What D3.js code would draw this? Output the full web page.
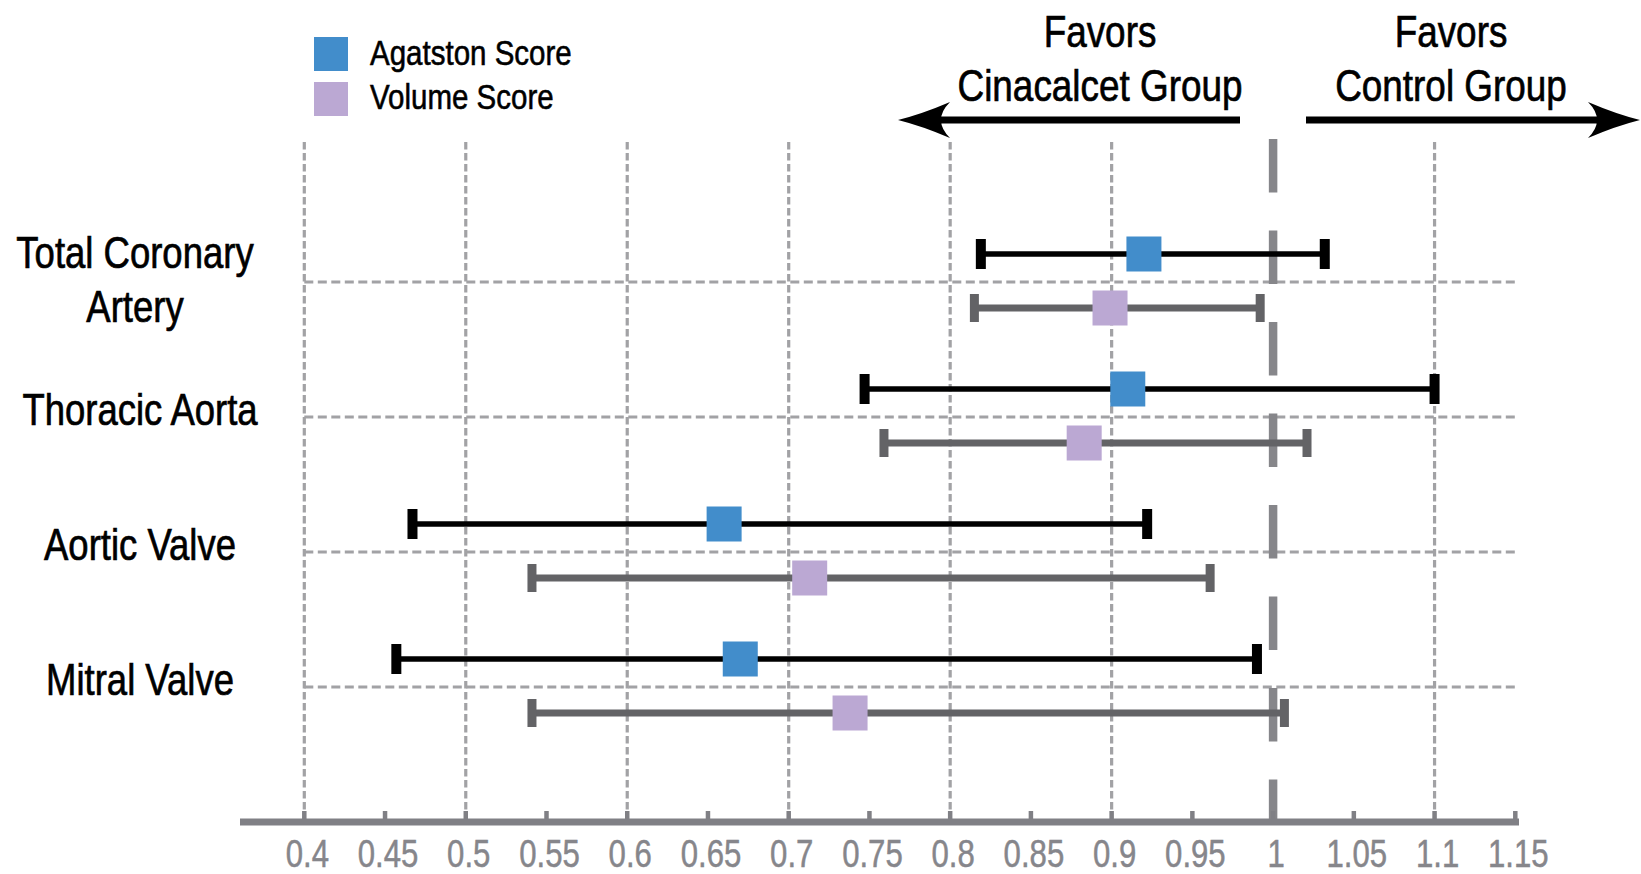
<!DOCTYPE html>
<html>
<head>
<meta charset="utf-8">
<script src="https://cdn.jsdelivr.net/npm/d3@7"></script>
<style>
  body { margin: 0; background: #fff; }
  svg { display: block; }
  text { font-family: 'Liberation Sans', Arial, sans-serif; }
</style>
</head>
<body>
<svg id="chart" width="1641" height="874"></svg>
<script>
// Sites and their label lines
const categories = ["Total Coronary Artery", "Thoracic Aorta", "Aortic Valve", "Mitral Valve"];
const categoryLines = [["Total Coronary", "Artery"], ["Thoracic Aorta"], ["Aortic Valve"], ["Mitral Valve"]];

// Series
const seriesNames = ["Agatston Score", "Volume Score"];
const agatstonEst  = [0.920, 0.910, 0.660, 0.670];
const agatstonLow  = [0.819, 0.747, 0.467, 0.457];
const agatstonHigh = [1.032, 1.100, 0.922, 0.990];
const volumeEst    = [0.899, 0.883, 0.713, 0.738];
const volumeLow    = [0.815, 0.759, 0.541, 0.541];
const volumeHigh   = [0.992, 1.021, 0.961, 1.007];

// Axis ticks
const tickValues = [0.4, 0.45, 0.5, 0.55, 0.6, 0.65, 0.7, 0.75, 0.8, 0.85, 0.9, 0.95, 1, 1.05, 1.1, 1.15];
const gridValues = [0.4, 0.5, 0.6, 0.7, 0.8, 0.9, 1.1];
const referenceValue = 1;

const directionLabels = [["Favors", "Cinacalcet Group"], ["Favors", "Control Group"]];

// Condensed lettering: Arial-metric glyphs squeezed horizontally
const NARROW = 0.82;
function narrow(xp, yp) { return `translate(${xp},${yp}) scale(${NARROW},1)`; }

const svg = d3.select("#chart");

const x = d3.scaleLinear().domain([0.4, 1.15]).range([304.3, 1515.3]);
const y = d3.scalePoint().domain(categories).range([282, 687]);

const axisY = 822;
const gridTop = 142;

const seriesStyle = [
  { fill: "#428dcb", bar: "#000000", barW: 5.5, capW: 10, capH: 30, dy: -28 },
  { fill: "#bba8d3", bar: "#636366", barW: 7, capW: 9, capH: 28, dy: 26 }
];
const seriesData = [
  categories.map((c, i) => ({ cat: c, est: agatstonEst[i], lo: agatstonLow[i], hi: agatstonHigh[i] })),
  categories.map((c, i) => ({ cat: c, est: volumeEst[i], lo: volumeLow[i], hi: volumeHigh[i] }))
];

// Heavier strokes on the lettering
function ink(sel, color, w) { return sel.attr("fill", color).attr("stroke", color).attr("stroke-width", w); }

// Vertical grid lines
svg.append("g").selectAll("line").data(gridValues).join("line")
  .attr("x1", d => x(d)).attr("x2", d => x(d))
  .attr("y1", gridTop).attr("y2", axisY - 4)
  .attr("stroke", "#a2a2a5").attr("stroke-width", 3.2)
  .attr("stroke-dasharray", "7.5,3.5");

// Horizontal separators at each site
svg.append("g").selectAll("line").data(categories).join("line")
  .attr("x1", x(0.4)).attr("x2", x(1.15))
  .attr("y1", d => y(d)).attr("y2", d => y(d))
  .attr("stroke", "#a2a2a5").attr("stroke-width", 3.2)
  .attr("stroke-dasharray", "9,4.5");

// Null-effect reference line
svg.append("line")
  .attr("x1", x(referenceValue)).attr("x2", x(referenceValue))
  .attr("y1", 139).attr("y2", axisY)
  .attr("stroke", "#86868a").attr("stroke-width", 8.5)
  .attr("stroke-dasharray", "53.5,38");

// Error bars and point estimates
seriesData.forEach((data, s) => {
  const st = seriesStyle[s];
  const g = svg.append("g");
  g.selectAll("line.ci").data(data).join("line").attr("class", "ci")
    .attr("x1", d => x(d.lo)).attr("x2", d => x(d.hi))
    .attr("y1", d => y(d.cat) + st.dy).attr("y2", d => y(d.cat) + st.dy)
    .attr("stroke", st.bar).attr("stroke-width", st.barW);
  ["lo", "hi"].forEach(k => {
    g.selectAll("rect.cap-" + k).data(data).join("rect").attr("class", "cap-" + k)
      .attr("x", d => x(d[k]) - st.capW / 2).attr("width", st.capW)
      .attr("y", d => y(d.cat) + st.dy - st.capH / 2).attr("height", st.capH)
      .attr("fill", st.bar);
  });
  const m = 35;
  g.selectAll("rect.pt").data(data).join("rect").attr("class", "pt")
    .attr("x", d => x(d.est) - m / 2).attr("width", m)
    .attr("y", d => y(d.cat) + st.dy - m / 2).attr("height", m)
    .attr("fill", st.fill);
});

// Bottom axis
const axisG = svg.append("g").attr("transform", `translate(0,${axisY})`);
axisG.append("line").attr("x1", 240).attr("x2", 1519).attr("y1", 0).attr("y2", 0)
  .attr("stroke", "#808085").attr("stroke-width", 7);
axisG.selectAll("line.tick").data(tickValues).join("line").attr("class", "tick")
  .attr("x1", d => x(d)).attr("x2", d => x(d)).attr("y1", -3).attr("y2", -11)
  .attr("stroke", "#808085").attr("stroke-width", 4.5);
ink(axisG.selectAll("text.tl").data(tickValues).join("text").attr("class", "tl")
  .attr("transform", d => narrow(x(d) + 3, 45))
  .attr("text-anchor", "middle").attr("font-size", 38), "#86868b", 0.5)
  .text(d => String(+d.toFixed(2)));

// Site labels
categoryLines.forEach((lines, i) => {
  const cy = y(categories[i]);
  const pos = lines.length === 2 ? [[135, cy - 14], [135, cy + 40]] : [[140, cy + 8]];
  lines.forEach((ln, j) => {
    ink(svg.append("text").attr("transform", narrow(pos[j][0], pos[j][1])).attr("text-anchor", "middle")
      .attr("font-size", 44.5), "#000", 0.7).text(ln);
  });
});

// Legend
const legend = svg.append("g");
seriesNames.forEach((name, i) => {
  legend.append("rect").attr("x", 314).attr("y", 37 + i * 45).attr("width", 34).attr("height", 34)
    .attr("fill", seriesStyle[i].fill);
  ink(legend.append("text").attr("transform", narrow(370, 65 + i * 44))
    .attr("font-size", 36), "#000", 0.6).text(name);
});

// Direction labels with arrows
const dirG = svg.append("g");
const dirCenters = [1100, 1451];
directionLabels.forEach((lines, i) => {
  ink(dirG.append("text").attr("transform", narrow(dirCenters[i], 47)).attr("text-anchor", "middle")
    .attr("font-size", 45), "#000", 0.7).text(lines[0]);
  ink(dirG.append("text").attr("transform", narrow(dirCenters[i], 101)).attr("text-anchor", "middle")
    .attr("font-size", 45), "#000", 0.7).text(lines[1]);
});
const arrowY = 120;
function arrow(xStart, xTip) {
  const dir = Math.sign(xTip - xStart);
  const back = xTip - dir * 52;
  dirG.append("line").attr("x1", xStart).attr("x2", xTip - dir * 30)
    .attr("y1", arrowY).attr("y2", arrowY).attr("stroke", "#000").attr("stroke-width", 7);
  dirG.append("path")
    .attr("d", `M${xTip},${arrowY} Q${xTip - dir * 24},${arrowY - 6} ${back},${arrowY - 18} Q${xTip - dir * 34},${arrowY} ${back},${arrowY + 18} Q${xTip - dir * 24},${arrowY + 6} ${xTip},${arrowY} Z`)
    .attr("fill", "#000");
}
arrow(1240, 898);
arrow(1306, 1640);
</script>
</body>
</html>
